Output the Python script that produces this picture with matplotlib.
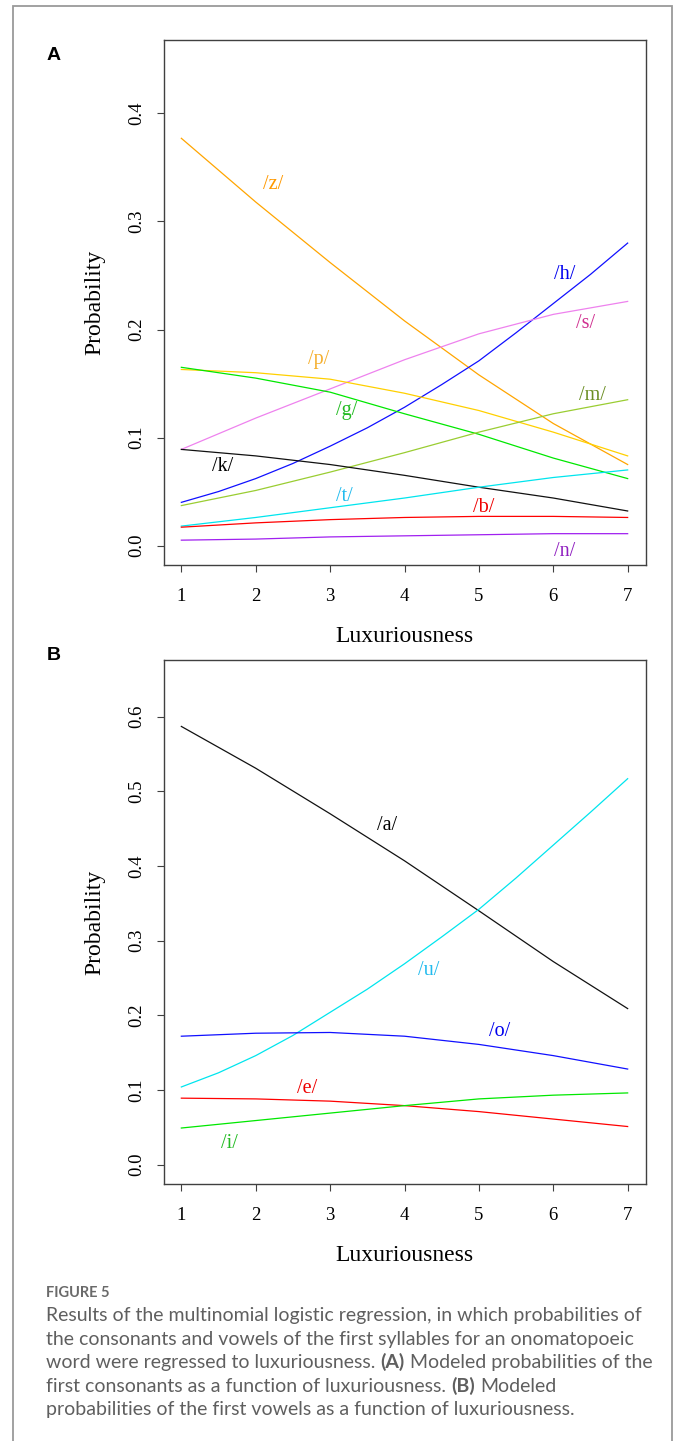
import matplotlib
matplotlib.use("Agg")
import matplotlib.pyplot as plt
from matplotlib.patches import Rectangle

# ---------------- data ----------------
lux = [1, 2, 3, 4, 5, 6, 7]
lux_fine = [1, 1.5, 2, 2.5, 3, 3.5, 4, 4.5, 5, 5.5, 6, 6.5, 7]

# Panel A: first consonants
cons_z = [0.377, 0.318, 0.262, 0.208, 0.158, 0.113, 0.075]
cons_h = [0.040, 0.050, 0.062, 0.076, 0.092, 0.109, 0.128, 0.149, 0.171, 0.197, 0.224, 0.251, 0.280]
cons_s = [0.089, 0.118, 0.145, 0.172, 0.196, 0.214, 0.226]
cons_p = [0.163, 0.160, 0.154, 0.141, 0.125, 0.105, 0.083]
cons_g = [0.165, 0.155, 0.142, 0.122, 0.103, 0.081, 0.062]
cons_m = [0.037, 0.051, 0.068, 0.086, 0.105, 0.122, 0.135]
cons_k = [0.089, 0.083, 0.075, 0.065, 0.054, 0.044, 0.032]
cons_t = [0.018, 0.026, 0.035, 0.044, 0.054, 0.063, 0.070]
cons_b = [0.017, 0.021, 0.024, 0.026, 0.027, 0.027, 0.026]
cons_n = [0.005, 0.006, 0.008, 0.009, 0.010, 0.011, 0.011]

# Panel B: first vowels
vow_a = [0.587, 0.531, 0.470, 0.407, 0.340, 0.272, 0.209]
vow_u = [0.104, 0.123, 0.146, 0.173, 0.204, 0.235, 0.269, 0.305, 0.342, 0.384, 0.428, 0.472, 0.517]
vow_o = [0.172, 0.176, 0.177, 0.172, 0.161, 0.146, 0.128]
vow_e = [0.089, 0.088, 0.085, 0.079, 0.071, 0.061, 0.051]
vow_i = [0.049, 0.059, 0.069, 0.079, 0.088, 0.093, 0.096]

cons_labels = ["/z/", "/h/", "/s/", "/p/", "/g/", "/m/", "/k/", "/t/", "/b/", "/n/"]
vow_labels = ["/a/", "/u/", "/o/", "/e/", "/i/"]

x_ticks = [1, 2, 3, 4, 5, 6, 7]
yticks_a = [0.0, 0.1, 0.2, 0.3, 0.4]
yticks_b = [0.0, 0.1, 0.2, 0.3, 0.4, 0.5, 0.6]

x_label = "Luxuriousness"
y_label = "Probability"
caption_head = "FIGURE 5"

# ---------------- styling ----------------
W, H = 680, 1441
fig = plt.figure(figsize=(W / 100, H / 100), dpi=100)
fig.patch.set_facecolor("white")

def fx(px):
    return px / W

def fy(py):
    return 1 - py / H

SERIF = ["Liberation Serif", "DejaVu Serif"]
TICK_FS = 13.5
LAB_FS = 14.5
AX_FS = 17
LW = 0.9

# outer frame
fig.patches.append(Rectangle((fx(12.5), fy(1500)), fx(671.5) - fx(12.5), fy(5.5) - fy(1500),
                             transform=fig.transFigure, fill=False,
                             edgecolor="#9a9a9a", lw=1.3, zorder=0))

AX_L, AX_R = 163.5, 645.5

def make_axes(top, bottom, yl, yticks):
    ax = fig.add_axes([fx(AX_L), fy(bottom), fx(AX_R) - fx(AX_L), fy(top) - fy(bottom)])
    ax.set_xlim(0.76, 7.24)
    ax.set_ylim(*yl)
    ax.set_xticks(x_ticks)
    ax.set_xticklabels([str(v) for v in x_ticks], fontfamily=SERIF, fontsize=TICK_FS)
    ax.set_yticks(yticks)
    ax.set_yticklabels(["%.1f" % v for v in yticks], fontfamily=SERIF, fontsize=TICK_FS,
                       rotation=90, va="center")
    ax.tick_params(axis="both", direction="out", length=5, width=0.8, color="#404040")
    ax.tick_params(axis="x", pad=11.5)
    ax.tick_params(axis="y", pad=8)
    for sp in ax.spines.values():
        sp.set_color("#404040")
        sp.set_linewidth(1.0)
    return ax

# ---------- Panel A ----------
axA = make_axes(40, 565, (-0.018, 0.468), yticks_a)
cons_series = [
    (lux, cons_z, "#FFA500", "#FF9900", 2.24, 0.334),
    (lux_fine, cons_h, "#1010FF", "#0000EE", 6.16, 0.251),
    (lux, cons_s, "#EE82EE", "#D03090", 6.44, 0.206),
    (lux, cons_p, "#FFD000", "#F5B030", 2.84, 0.172),
    (lux, cons_g, "#00E800", "#22BB22", 3.22, 0.125),
    (lux, cons_m, "#9ACD32", "#6B8E23", 6.53, 0.139),
    (lux, cons_k, "#111111", "#000000", 1.56, 0.073),
    (lux, cons_t, "#00E5EE", "#22BBEE", 3.19, 0.045),
    (lux, cons_b, "#FF0000", "#EE0000", 5.06, 0.0355),
    (lux, cons_n, "#A020F0", "#9020C0", 6.15, -0.0055),
]
for (xs, ys, lc, tc, lx, ly), lab in zip(cons_series, cons_labels):
    axA.plot(xs, ys, color=lc, lw=LW)
    axA.text(lx, ly, lab, color=tc, fontfamily=SERIF, fontsize=LAB_FS, ha="center", va="center")

# ---------- Panel B ----------
axB = make_axes(660, 1184, (-0.026, 0.676), yticks_b)
vow_series = [
    (lux, vow_a, "#111111", "#000000", 3.76, 0.454),
    (lux_fine, vow_u, "#00E5EE", "#22BBEE", 4.33, 0.260),
    (lux, vow_o, "#1010FF", "#0000EE", 5.28, 0.178),
    (lux, vow_e, "#FF0000", "#EE0000", 2.69, 0.102),
    (lux, vow_i, "#00E800", "#22BB22", 1.64, 0.028),
]
for (xs, ys, lc, tc, lx, ly), lab in zip(vow_series, vow_labels):
    axB.plot(xs, ys, color=lc, lw=LW)
    axB.text(lx, ly, lab, color=tc, fontfamily=SERIF, fontsize=LAB_FS, ha="center", va="center")

# axis titles
for top, bottom in [(40, 565), (660, 1184)]:
    fig.text(fx((AX_L + AX_R) / 2), fy(bottom + 77), x_label, fontfamily=SERIF, fontsize=AX_FS,
             ha="center", va="baseline")
    fig.text(fx(100), fy((top + bottom) / 2), y_label, fontfamily=SERIF, fontsize=AX_FS,
             ha="center", va="baseline", rotation=90, rotation_mode="anchor")

# panel letters
fig.text(fx(54), fy(55), "A", fontfamily=["Liberation Sans", "DejaVu Sans"], fontweight="bold",
         fontsize=14, ha="center", va="center")
fig.text(fx(54), fy(655), "B", fontfamily=["Liberation Sans", "DejaVu Sans"], fontweight="bold",
         fontsize=14, ha="center", va="center")

# ---------- caption ----------
CAP_FONT = ["Lato", "DejaVu Sans"]
CAP_COLOR = "#5f5f5f"
renderer = fig.canvas.get_renderer()

fig.text(fx(46), fy(1297), caption_head, fontfamily=CAP_FONT, fontweight="bold", fontsize=10.5,
         color="#6a6a6a", ha="left", va="baseline")

cap_lines = [
    [("Results of the multinomial logistic regression, in which probabilities of", False)],
    [("the consonants and vowels of the first syllables for an onomatopoeic", False)],
    [("word were regressed to luxuriousness.", False), ("(A)", True), ("Modeled probabilities of the", False)],
    [("first consonants as a function of luxuriousness.", False), ("(B)", True), ("Modeled", False)],
    [("probabilities of the first vowels as a function of luxuriousness.", False)],
]

probe = fig.text(0, 0, cap_lines[0][0][0], fontfamily=CAP_FONT, fontsize=10)
w10 = probe.get_window_extent(renderer).width
probe.remove()
cap_fs = 10 * 595.0 / w10

def text_w(s, bold=False):
    t = fig.text(0, 0, s, fontfamily=CAP_FONT, fontsize=cap_fs, fontweight="bold" if bold else "normal")
    w = t.get_window_extent(renderer).width
    t.remove()
    return w

space_w = text_w("a a") - text_w("aa")

base_y = 1321
line_h = 23.6
for i, segs in enumerate(cap_lines):
    xpx = 46
    ypx = base_y + i * line_h
    for j, (s, bold) in enumerate(segs):
        t = fig.text(fx(xpx), fy(ypx), s, fontfamily=CAP_FONT, fontsize=cap_fs,
                     fontweight="bold" if bold else "normal", color=CAP_COLOR,
                     ha="left", va="baseline")
        xpx += t.get_window_extent(renderer).width + space_w

fig.savefig("out.png", dpi=100, facecolor="white")
